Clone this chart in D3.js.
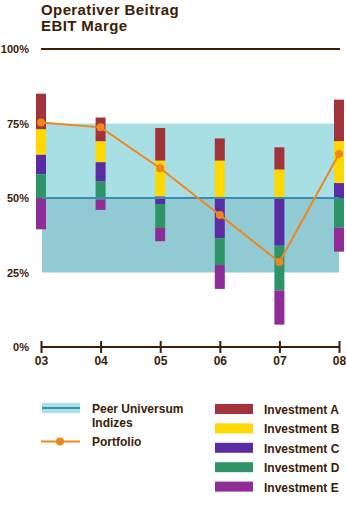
<!DOCTYPE html>
<html>
<head>
<meta charset="utf-8">
<script src="https://cdn.jsdelivr.net/npm/d3@7"></script>
<style>
  body { margin: 0; background: #fff; }
  svg { display: block; font-family: "Liberation Sans", Arial, sans-serif; }
  .lbl { fill: #3b2007; font-weight: bold; }
</style>
</head>
<body>
<div id="chart"></div>
<script>
const years = ['03', '04', '05', '06', '07', '08'];
const investments = ['Investment A', 'Investment B', 'Investment C', 'Investment D', 'Investment E'];
const investColors = ['#a3333a', '#ffd800', '#5a2ca4', '#2e9467', '#8e2c98'];

// top of each stacked bar (%), segments stack downwards from there
const barTop = [85, 77, 73.5, 70, 67, 83];
const invA = [12, 8, 11, 7.5, 7.5, 14];
const invB = [8.5, 7, 12, 12.5, 9.5, 14];
const invC = [6.5, 6.5, 2.5, 13.5, 16, 5];
const invD = [8, 6, 8, 9, 15, 10];
const invE = [10.5, 3.5, 4.5, 8, 11.5, 8];

const portfolio = [75.3, 73.7, 60, 44.3, 28.5, 64.8];

// peer universe band
const peerHigh = 75, peerMedian = 50, peerLow = 25;

const yTicks = [0, 25, 50, 75, 100];

const width = 346, height = 514;
const svg = d3.select('#chart').append('svg')
  .attr('width', width)
  .attr('height', height);

const x = d3.scalePoint().domain(years).range([41, 339]);
const y = d3.scaleLinear().domain([0, 100]).range([347, 49]);

// title
svg.append('text').attr('class', 'lbl').attr('x', 41).attr('y', 15)
  .style('font-size', '15px').style('letter-spacing', '0.4px').text('Operativer Beitrag');
svg.append('text').attr('class', 'lbl').attr('x', 41).attr('y', 31)
  .style('font-size', '15px').style('letter-spacing', '0.4px').text('EBIT Marge');

// 100% rule
svg.append('line')
  .attr('x1', x(years[0])).attr('x2', x(years[years.length - 1]) + 1)
  .attr('y1', y(100)).attr('y2', y(100))
  .attr('stroke', '#3b2007').attr('stroke-width', 2);

// peer band
const bandX0 = x(years[0]) + 1, bandX1 = x(years[years.length - 1]);
svg.append('rect')
  .attr('x', bandX0).attr('width', bandX1 - bandX0)
  .attr('y', y(peerHigh)).attr('height', y(peerMedian) - y(peerHigh))
  .attr('fill', '#a8dfe4');
svg.append('rect')
  .attr('x', bandX0).attr('width', bandX1 - bandX0)
  .attr('y', y(peerMedian)).attr('height', y(peerLow) - y(peerMedian))
  .attr('fill', '#91cad3');

// stacked bars
const seriesData = [invA, invB, invC, invD, invE];
const barW = 10;
years.forEach((yr, i) => {
  let top = barTop[i];
  seriesData.forEach((s, k) => {
    const bottom = top - s[i];
    svg.append('rect')
      .attr('x', x(yr) - barW / 2)
      .attr('width', barW)
      .attr('y', y(top))
      .attr('height', y(bottom) - y(top))
      .attr('fill', investColors[k]);
    top = bottom;
  });
});

// median line (drawn over bars)
svg.append('line')
  .attr('x1', bandX0).attr('x2', bandX1)
  .attr('y1', y(peerMedian)).attr('y2', y(peerMedian))
  .attr('stroke', '#3a8db0').attr('stroke-width', 2);

// portfolio line
const line = d3.line().x((d, i) => x(years[i])).y(d => y(d));
svg.append('path')
  .datum(portfolio)
  .attr('d', line)
  .attr('fill', 'none')
  .attr('stroke', '#f0861c')
  .attr('stroke-width', 2);
svg.selectAll('.pdot')
  .data(portfolio)
  .enter()
  .append('circle')
  .attr('class', 'pdot')
  .attr('cx', (d, i) => x(years[i]))
  .attr('cy', d => y(d))
  .attr('r', 4)
  .attr('fill', '#f0861c');

// x axis
const xAxis = svg.append('g')
  .attr('transform', `translate(0,${y(0)})`)
  .call(d3.axisBottom(x).tickSize(6).tickPadding(4));
xAxis.select('.domain').attr('stroke', '#3b2007').attr('stroke-width', 2)
  .attr('d', `M${x(years[0])},0H${x(years[years.length - 1])}`);
xAxis.selectAll('.tick line').attr('y1', -6).attr('y2', 6)
  .attr('stroke', '#3b2007').attr('stroke-width', 2);
xAxis.selectAll('.tick text')
  .attr('class', 'lbl')
  .attr('y', 9)
  .style('font-size', '12px')
  .style('font-family', '"Liberation Sans", Arial, sans-serif');

// y labels
const yAxis = svg.append('g')
  .attr('transform', 'translate(29,0)')
  .call(d3.axisLeft(y).tickValues(yTicks).tickSize(0).tickPadding(0).tickFormat(d => d + '%'));
yAxis.select('.domain').remove();
yAxis.selectAll('.tick text')
  .attr('class', 'lbl')
  .style('font-size', '11px')
  .style('font-family', '"Liberation Sans", Arial, sans-serif');

// legend - left
const lg = svg.append('g');
lg.append('rect').attr('x', 42).attr('y', 403).attr('width', 38).attr('height', 10).attr('fill', '#a8dfe4');
lg.append('line').attr('x1', 42).attr('x2', 80).attr('y1', 408).attr('y2', 408)
  .attr('stroke', '#3a8db0').attr('stroke-width', 2);
lg.append('text').attr('class', 'lbl').attr('x', 92).attr('y', 413)
  .style('font-size', '12px').text('Peer Universum');
lg.append('text').attr('class', 'lbl').attr('x', 92).attr('y', 427)
  .style('font-size', '12px').text('Indizes');
lg.append('line').attr('x1', 41).attr('x2', 80).attr('y1', 441.5).attr('y2', 441.5)
  .attr('stroke', '#f0861c').attr('stroke-width', 2);
lg.append('circle').attr('cx', 60).attr('cy', 441.5).attr('r', 4).attr('fill', '#f0861c');
lg.append('text').attr('class', 'lbl').attr('x', 92).attr('y', 446)
  .style('font-size', '12px').text('Portfolio');

// legend - right
const rg = svg.selectAll('.inv-leg')
  .data(investments)
  .enter()
  .append('g')
  .attr('class', 'inv-leg')
  .attr('transform', (d, i) => `translate(215,${404 + i * 19.4})`);
rg.append('rect').attr('width', 38).attr('height', 10).attr('fill', (d, i) => investColors[i]);
rg.append('text').attr('class', 'lbl').attr('x', 49).attr('y', 10)
  .style('font-size', '12px').text(d => d);
</script>
</body>
</html>
